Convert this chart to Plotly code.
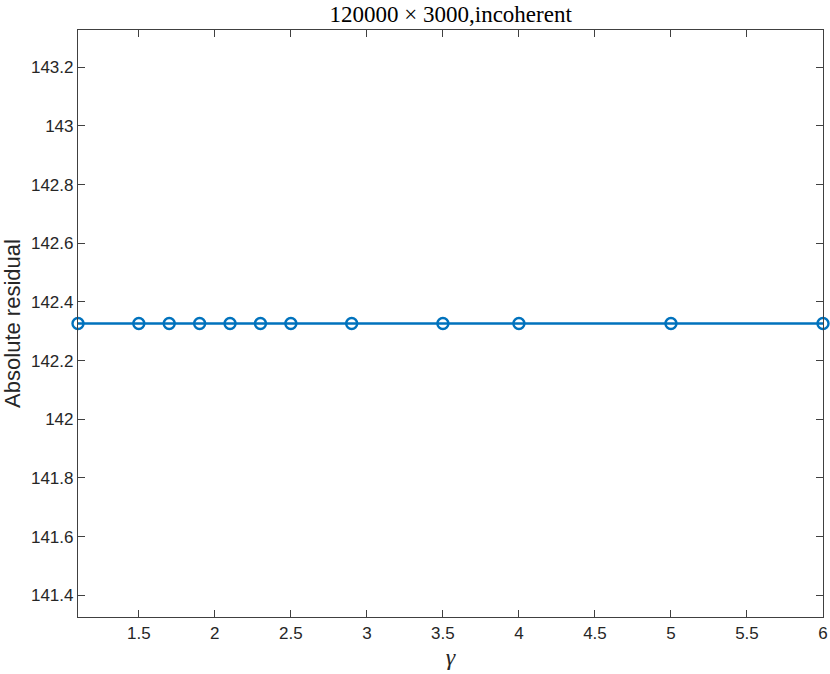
import plotly.graph_objects as go

# gamma values and absolute residual (flat)
gamma = [1.1, 1.5, 1.7, 1.9, 2.1, 2.3, 2.5, 2.9, 3.5, 4.0, 5.0, 6.0]
residual = [142.3266] * len(gamma)

x_ticks = [1.5, 2, 2.5, 3, 3.5, 4, 4.5, 5, 5.5, 6]
x_labels = ["1.5", "2", "2.5", "3", "3.5", "4", "4.5", "5", "5.5", "6"]
y_ticks = [141.4, 141.6, 141.8, 142.0, 142.2, 142.4, 142.6, 142.8, 143.0, 143.2]
y_labels = ["141.4", "141.6", "141.8", "142", "142.2", "142.4", "142.6", "142.8", "143", "143.2"]

BLUE = "#0072BD"
AX = "#404040"
TXT = "#262626"

fig = go.Figure(go.Scatter(
    x=gamma,
    y=residual,
    mode="lines+markers",
    line={"color": BLUE, "width": 2.5},
    marker={"symbol": "circle-open", "size": 11, "color": BLUE, "line": {"width": 2.4, "color": BLUE}},
    cliponaxis=False,
    showlegend=False,
))

axis_common = dict(
    showline=True, linecolor=AX, linewidth=1.2, mirror="ticks",
    ticks="inside", ticklen=7, tickcolor=AX, tickwidth=1,
    showgrid=False, zeroline=False, automargin=False,
    tickfont={"family": "Liberation Sans, Arial, sans-serif", "size": 17, "color": TXT},
)

fig.update_layout(
    width=830, height=674,
    paper_bgcolor="white", plot_bgcolor="white",
    margin={"l": 78, "r": 7, "t": 30, "b": 57},
    title={
        "text": "120000 × 3000,incoherent",
        "x": 0.543, "xanchor": "center", "y": 0.979, "yanchor": "middle",
        "font": {"family": "Liberation Serif, DejaVu Serif, serif", "size": 23, "color": "black"},
    },
    xaxis=dict(
        axis_common, range=[1.1, 6.0], tickvals=x_ticks, ticktext=x_labels,
        title={"text": "<i>γ</i>", "standoff": 6,
               "font": {"family": "Liberation Serif, DejaVu Serif, serif", "size": 24, "color": TXT}},
    ),
    yaxis=dict(
        axis_common, range=[141.326, 143.327], tickvals=y_ticks, ticktext=y_labels,
        title={"text": "Absolute residual", "standoff": 4,
               "font": {"family": "Liberation Sans, Arial, sans-serif", "size": 22, "color": TXT}},
    ),
)

# drop the default 8px page margin so the figure sits at the window corner
fig.write_html(
    "out.html",
    config={"displayModeBar": False},
    post_script="document.body.style.margin='0px';",
)
